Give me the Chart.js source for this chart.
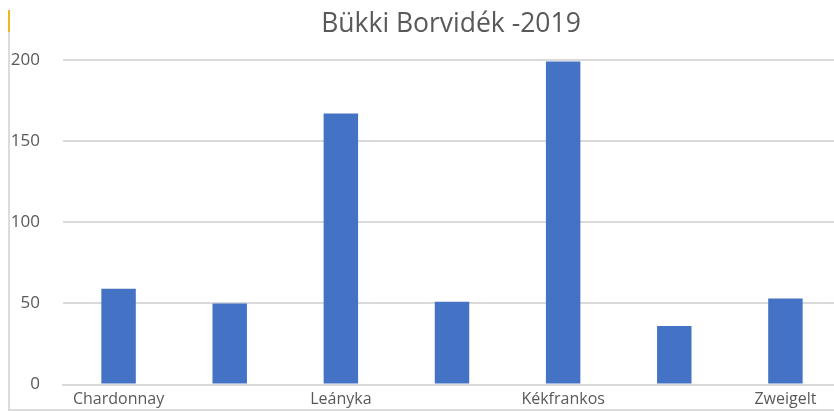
<!DOCTYPE html>
<html>
<head>
<meta charset="utf-8">
<script src="https://cdn.jsdelivr.net/npm/chart.js@4/dist/chart.umd.min.js"></script>
<style>
  html, body { margin: 0; padding: 0; background: #fff; overflow: hidden; }
  body { width: 834px; height: 411px; position: relative; }
  #wrap { position: absolute; left: 0; top: 0; width: 902px; height: 411px; }
  #title { position: absolute; left: 0; top: 9px; width: 902px; text-align: center;
           font-family: 'Open Sans', sans-serif; font-size: 26.5px; line-height: 26.5px; color: #595959; }
  #frame { position: absolute; left: 8px; top: 10px; width: 900px; height: 399px;
           border-left: 2px solid #dcdcdc; border-bottom: 2px solid #dcdcdc; }
  #mark { position: absolute; left: 8px; top: 10px; width: 2px; height: 22px; background: #f0b429; }
</style>
</head>
<body>
<div id="frame"></div>
<div id="mark"></div>
<div id="wrap"><canvas id="bar-chart-canvas"></canvas></div>
<div id="title">Bükki Borvidék -2019</div>
<script>
// grape varieties, only every other name is printed under the axis
const categories = ['Chardonnay', '', 'Leányka', '', 'Kékfrankos', '', 'Zweigelt'];
const values = [59, 50, 167, 51, 199, 36, 53];
const yTicks = [0, 50, 100, 150, 200];

const textColor = '#595959';
const gridColor = '#d9d9d9';

// fixed axis sizes, no room reserved for overhanging labels
const fixAxis = size => axis => {
    axis.paddingLeft = 0;
    axis.paddingRight = 0;
    axis.paddingTop = 0;
    axis.paddingBottom = 0;
    if (axis.isHorizontal()) axis.height = size; else axis.width = size;
};

const chart = new Chart(document.getElementById('bar-chart-canvas'), {
    type: 'bar',
    data: {
        labels: categories,
        datasets: [
            {
                label: 'Bükki Borvidék',
                data: values,
                backgroundColor: '#4472c4',
                borderWidth: 0,
                categoryPercentage: 1,
                barPercentage: 0.31
            }
        ]
    },
    options: {
        responsive: true,
        maintainAspectRatio: false,
        animation: false,
        layout: {
            padding: { left: 11, right: 61, top: 60, bottom: 2 }
        },
        plugins: {
            legend: { display: false },
            tooltip: { enabled: false },
            title: { display: false }
        },
        scales: {
            x: {
                afterFit: fixAxis(24.5),
                grid: { display: false, drawTicks: false },
                border: { display: true, color: gridColor, width: 2 },
                ticks: {
                    color: textColor,
                    font: { family: 'Open Sans', size: 16 },
                    autoSkip: false,
                    maxRotation: 0,
                    padding: 5,
                    callback: (v, i) => categories[i]
                }
            },
            y: {
                min: 0,
                max: 200,
                afterFit: fixAxis(52),
                afterBuildTicks: axis => { axis.ticks = yTicks.map(v => ({ value: v })); },
                grid: { color: gridColor, lineWidth: 2, drawTicks: false },
                border: { display: false },
                ticks: {
                    color: textColor,
                    font: { family: 'Open Sans', size: 17 },
                    padding: 23
                }
            }
        }
    }
});
</script>
</body>
</html>
